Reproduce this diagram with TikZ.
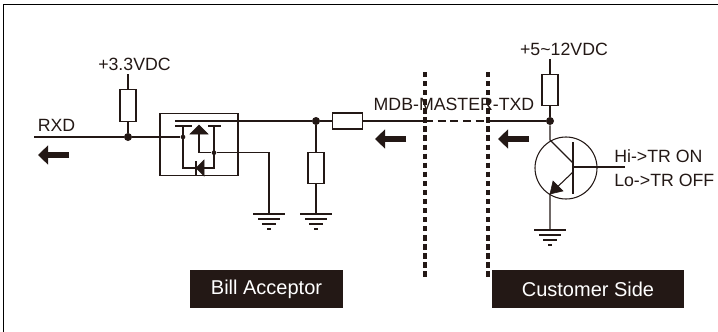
\documentclass[tikz,border=0pt]{standalone}
\usepackage{fontspec}
\setmainfont{Liberation Sans}
\usetikzlibrary{arrows.meta}
\definecolor{boxblack}{RGB}{35,24,21}
\tikzset{
  wire/.style={line width=0.8pt, draw=boxblack},
  part/.style={rectangle, draw=boxblack, line width=0.8pt, fill=white, inner sep=0pt},
  resv/.style={part, minimum width=12pt, minimum height=23.5pt},
  resh/.style={part, minimum width=23pt, minimum height=12pt},
  joint/.style={circle, fill=boxblack, inner sep=0pt, minimum size=6pt},
  smalljoint/.style={circle, fill=boxblack, inner sep=0pt, minimum size=3.5pt},
  solid tri/.style={fill=boxblack, draw=boxblack, line width=0.4pt},
  flow/.style={-{Triangle[length=7.5pt,width=14pt]}, line width=5pt, draw=boxblack},
  border line/.style={dash pattern=on 4pt off 2.8pt, line width=2.5pt, draw=boxblack},
  lbl/.style={text=boxblack, font=\fontsize{13.3pt}{15pt}\selectfont, inner sep=0pt},
  tag/.style={rectangle, fill=boxblack, text=white, font=\fontsize{15pt}{18pt}\selectfont, inner sep=0pt, minimum height=28.5pt}
}
\begin{document}
\begin{tikzpicture}[x=0.75pt, y=-0.75pt]
\useasboundingbox (0,0) rectangle (718,332);
% Frame, top and left only
\coordinate (framebot) at (3.5,332);
\coordinate (framecorner) at (3.5,4.5);
\coordinate (frameright) at (718,4.5);
\draw[line width=1.3pt, draw=black] (framebot) -- (framecorner) -- (frameright);

% Side separators
\coordinate (sepAtop) at (425,72);
\coordinate (sepAbot) at (425,280);
\coordinate (sepBtop) at (488,72);
\coordinate (sepBbot) at (488,280);

% Nodes on the RXD line
\coordinate (rxdin) at (34,137);
\node[joint] (rxdjoint) at (128,137) {};
\node[resv] (pullup) at (128,105.5) {};
\coordinate (pullupend) at (128,74);
\node[smalljoint] (gatejoint) at (183,137) {};

% Switch box
\node[part, fill=none, minimum width=58.5pt, minimum height=47pt] (switchbox) at (199,144.5) {};
\coordinate (drainstart) at (175,121);
\node[joint] (drainjoint) at (316,121) {};
\node[resh] (seriesres) at (347.5,121) {};
\node[resv] (shuntres) at (316,168) {};
\coordinate (sepAline) at (425,121);
\coordinate (sepBline) at (488,121);
\node[joint] (txdjoint) at (550,121) {};

% Inside the switch
\coordinate (barA) at (175,126);
\coordinate (barAend) at (192,126);
\coordinate (barB) at (208,126);
\coordinate (barBend) at (221,126);
\coordinate (gatetop) at (183,126);
\coordinate (gatebot) at (183,168);
\coordinate (sourcetop) at (214,126);
\coordinate (sourcebot) at (214,168);
\node[smalljoint] (sourcejoint) at (214,152.7) {};
\coordinate (tribase) at (199,134);
\coordinate (tribend) at (199,152.7);
\coordinate (gndAtop) at (269,152.7);
\coordinate (gndA) at (269,214);
\coordinate (gndB) at (316,214);

% Customer side
\node[resv] (supplyres) at (550,90) {};
\coordinate (supplyend) at (550,59);
\node[circle, draw=boxblack, line width=0.8pt, minimum size=46.5pt, inner sep=0pt] (trans) at (566,168) {};
\coordinate (colknee) at (550,140);
\coordinate (colbar) at (573,163);
\coordinate (embar) at (573,172);
\coordinate (emknee) at (550,194);
\coordinate (bartop) at (573,142);
\coordinate (barbot) at (573,194);
\coordinate (basestart) at (573,167);
\coordinate (baseend) at (625,167);
\coordinate (gndC) at (550,230);

% Wires
\draw[wire] (rxdin) -- (rxdjoint) -- (gatejoint);
\draw[wire] (pullupend) -- (pullup) -- (rxdjoint);
\draw[wire] (drainstart) -- (drainjoint) -- (seriesres) -- (sepAline);
\draw[wire, dash pattern=on 6pt off 3.5pt] (sepAline) -- (sepBline);
\draw[wire] (sepBline) -- (txdjoint);
\draw[wire] (drainjoint) -- (shuntres) -- (gndB);
\draw[wire] (supplyend) -- (supplyres) -- (txdjoint);
\draw[wire] (barA) -- (barAend);
\draw[wire] (barB) -- (barBend);
\draw[wire] (gatetop) -- (gatebot) -- (sourcebot) -- (sourcetop);
\draw[wire] (tribase) -- (tribend) -- (sourcejoint) -- (gndAtop) -- (gndA);

% Solid diode and channel triangles
\draw[solid tri] (199,125) -- (190,134) -- (208,134) -- cycle;
\draw[solid tri] (196,168) -- (204,160) -- (204,176) -- cycle;
\draw[wire] (196,161) -- (196,176);

% Transistor
\draw[wire] (txdjoint) -- (colknee) -- (colbar);
\draw[line width=2.2pt, draw=boxblack] (bartop) -- (barbot);
\draw[wire] (basestart) -- (baseend);
\draw[wire] (embar) -- (emknee) -- (gndC);
\draw[solid tri] (550,194) -- (553,181) -- (563,191) -- cycle;

% Grounds
\foreach \gndname in {gndA,gndB,gndC} {
  \draw[wire] ([xshift=-12pt]\gndname) -- ([xshift=12pt]\gndname);
  \draw[wire] ([xshift=-8.25pt,yshift=-3.75pt]\gndname) -- ([xshift=8.25pt,yshift=-3.75pt]\gndname);
  \draw[wire] ([xshift=-5.25pt,yshift=-7.5pt]\gndname) -- ([xshift=5.25pt,yshift=-7.5pt]\gndname);
  \draw[wire] ([xshift=-1.5pt,yshift=-11.25pt]\gndname) -- ([xshift=1.5pt,yshift=-11.25pt]\gndname);
}

% Separators on top of the wires
\draw[border line] (sepAtop) -- (sepAbot);
\draw[border line] (sepBtop) -- (sepBbot);

% Flow arrows
\coordinate (flowAs) at (69,155);
\coordinate (flowAe) at (38,155);
\coordinate (flowBs) at (406,139);
\coordinate (flowBe) at (375,139);
\coordinate (flowCs) at (529,139);
\coordinate (flowCe) at (498,139);
\draw[flow] (flowAs) -- (flowAe);
\draw[flow] (flowBs) -- (flowBe);
\draw[flow] (flowCs) -- (flowCe);

% Labels
\node[lbl, anchor=center] (lblvcc) at (134.5,64) {+3.3VDC};
\node[lbl, anchor=center] (lblrxd) at (56.5,125) {RXD};
\node[lbl, anchor=center] (lblmdb) at (454,104) {MDB-MASTER-TXD};
\node[lbl, anchor=center] (lblsupply) at (564,49) {+5\textasciitilde12VDC};
\node[lbl, anchor=west] (lblon) at (614,156) {Hi->TR ON};
\node[lbl, anchor=west] (lbloff) at (614,180) {Lo->TR OFF};

% Side tags
\node[tag, minimum width=114.75pt] (billtag) at (266.5,289) {Bill Acceptor};
\node[tag, minimum width=144pt] (custtag) at (588,289) {\raisebox{-1pt}{Customer Side}};
\end{tikzpicture}
\end{document}
